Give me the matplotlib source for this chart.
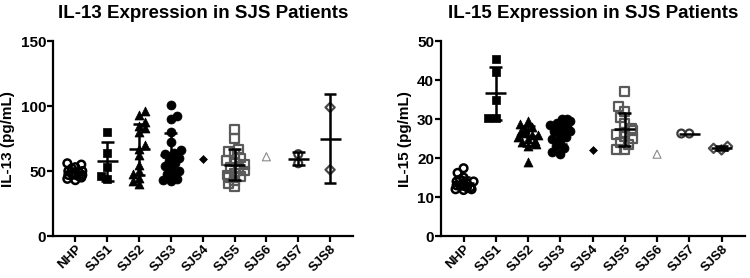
import matplotlib.pyplot as plt
import numpy as np

plt.rcParams['font.family'] = ['Liberation Sans', 'DejaVu Sans']
plt.rcParams['font.weight'] = 'bold'

groups = ['NHP', 'SJS1', 'SJS2', 'SJS3', 'SJS4', 'SJS5', 'SJS6', 'SJS7', 'SJS8']

# IL-13 (pg/mL)
il13 = {
    'NHP': [56, 55, 53, 52, 50, 49, 48, 47, 47, 46, 45, 44, 43, 48, 50],
    'SJS1': [80, 64, 53, 46, 44],
    'SJS2': [96, 93, 88, 85, 83, 80, 70, 67, 62, 55, 50, 48, 45, 42, 40],
    'SJS3': [101, 92, 90, 80, 72, 66, 64, 63, 62, 60, 58, 56, 54, 52, 50, 48, 46, 44, 43, 42],
    'SJS4': [59],
    'SJS5': [82, 75, 67, 65, 63, 60, 58, 57, 55, 53, 52, 50, 48, 47, 46, 45, 43, 40, 38],
    'SJS6': [61],
    'SJS7': [56, 63],
    'SJS8': [99, 51],
}

# IL-15 (pg/mL)
il15 = {
    'NHP': [17.4, 16.2, 15, 14.5, 14, 14, 13.5, 13.5, 13, 13, 12.5, 12.5, 12, 12, 11.8],
    'SJS1': [45.4, 42.1, 34.9, 30.3, 30.3],
    'SJS2': [29.5, 28.8, 28, 27.5, 27, 26.5, 26, 26, 25.5, 25, 24.5, 24, 23.5, 23, 19.1],
    'SJS3': [30, 30, 29.5, 29, 28.5, 28, 28, 27.5, 27, 27, 27, 26.5, 26, 25.5, 25, 24.5, 23, 22.5, 21.5, 21],
    'SJS4': [22.1],
    'SJS5': [37, 33.2, 32, 30.4, 28.9, 27.5, 27, 26.5, 26, 25.5, 25, 24, 23.5, 22.2, 22.2],
    'SJS6': [21],
    'SJS7': [26.3, 26.3],
    'SJS8': [23.0, 22.5, 22.1],
}

# marker style per group: (marker, face, edge, size, edge width)
styles = {
    'NHP': ('o', 'none', 'black', 30, 1.8),
    'SJS1': ('s', 'black', 'black', 36, 0.5),
    'SJS2': ('^', 'black', 'black', 42, 0.5),
    'SJS3': ('o', 'black', 'black', 42, 0.5),
    'SJS4': ('D', 'black', 'black', 16, 0.5),
    'SJS5': ('s', 'none', '#5a5a5a', 40, 1.6),
    'SJS6': ('^', 'none', '#8a8a8a', 34, 0.8),
    'SJS7': ('o', 'none', '#3a3a3a', 32, 1.6),
    'SJS8': ('D', 'none', '#4a4a4a', 22, 1.6),
}


def swarm(ax, x0, vals, diam=7.5, max_off=10):
    # simple beeswarm: place points in pixel space, spreading sideways
    trans = ax.transData
    order = np.argsort(vals)
    placed = []
    xs = np.zeros(len(vals))
    px0 = trans.transform((x0, 0))[0]
    for n, i in enumerate(order):
        py = trans.transform((x0, vals[i]))[1]
        best = None
        cands = [0.0]
        for k in range(1, 6):
            cands += [k * 2.0, -k * 2.0] if n % 2 == 0 else [-k * 2.0, k * 2.0]
        for off in cands:
            off = float(np.clip(off, -max_off, max_off))
            if all((off - a) ** 2 + (py - b) ** 2 >= (diam * 0.85) ** 2 for a, b in placed):
                best = off
                break
        if best is None:
            best = ((n % 5) - 2) * 3.5
        placed.append((best, py))
        xs[i] = trans.inverted().transform((px0 + best, py))[0]
    return xs


def draw(ax, data, ymax, ystep, ylabel, title):
    ax.set_xlim(-0.7, 8.72)
    ax.set_ylim(0, ymax)
    ax.set_yticks(np.arange(0, ymax + 1, ystep))
    ax.set_xticks(range(len(groups)))
    ax.set_xticklabels(groups, rotation=45, ha='right', rotation_mode='anchor', fontsize=9.5)
    for lab in ax.get_yticklabels():
        lab.set_fontsize(11)
    for s in ['top', 'right']:
        ax.spines[s].set_visible(False)
    for s in ['left', 'bottom']:
        ax.spines[s].set_linewidth(1.6)
    ax.tick_params(width=1.6, length=4, pad=1)
    ax.set_ylabel(ylabel, fontsize=11, fontweight='bold', labelpad=4)
    ax.set_title(title, fontsize=13.5, fontweight='bold', pad=17)

    for i, g in enumerate(groups):
        vals = np.array(data[g], dtype=float)
        m, fc, ec, sz, lw = styles[g]
        xs = swarm(ax, i, vals)
        ax.scatter(xs, vals, marker=m, s=sz, facecolors=fc, edgecolors=ec,
                   linewidths=lw, zorder=3, clip_on=False)
        if len(vals) > 1:
            mean = vals.mean()
            sd = vals.std(ddof=1)
            ax.hlines(mean, i - 0.33, i + 0.33, color='black', lw=1.8, zorder=4)
            if sd > 0:
                ax.vlines(i, mean - sd, mean + sd, color='black', lw=1.8, zorder=4)
                ax.hlines([mean - sd, mean + sd], i - 0.2, i + 0.2, color='black', lw=1.8, zorder=4)


fig = plt.figure(figsize=(7.5, 2.78), dpi=100)
ax1 = fig.add_axes([0.0707, 0.151, 0.40, 0.701])
ax2 = fig.add_axes([0.588, 0.151, 0.405, 0.701])

draw(ax1, il13, 150, 50, 'IL-13 (pg/mL)', 'IL-13 Expression in SJS Patients')
draw(ax2, il15, 50, 10, 'IL-15 (pg/mL)', 'IL-15 Expression in SJS Patients')

fig.savefig('out.png', dpi=100)
